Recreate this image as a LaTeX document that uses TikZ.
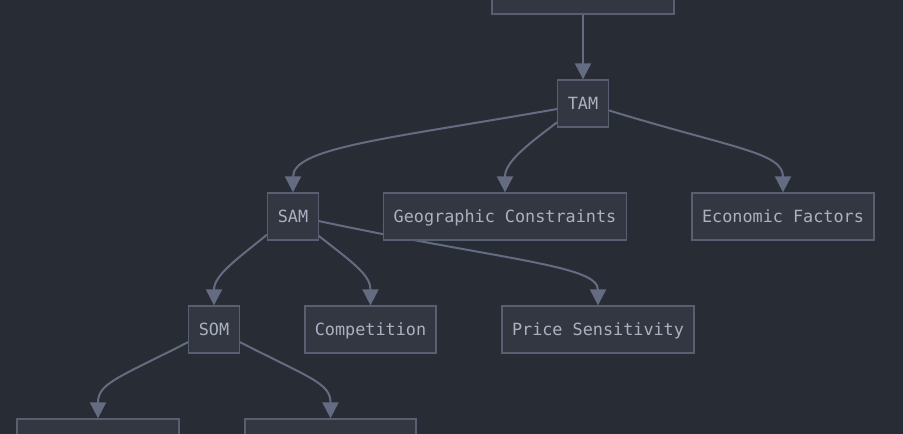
\documentclass[tikz,border=0pt]{standalone}
\usepackage{fontspec}
\setmonofont{DejaVu Sans Mono}
\usetikzlibrary{arrows.meta,backgrounds}

\definecolor{bgcol}{RGB}{40,44,52}
\definecolor{boxfill}{RGB}{51,55,66}
\definecolor{boxline}{RGB}{88,95,112}
\definecolor{edgecol}{RGB}{100,108,130}
\definecolor{txtcol}{RGB}{171,178,191}

\tikzset{
  box/.style={draw=boxline, fill=boxfill, line width=1.3pt, text=txtcol,
    minimum height=47pt, inner xsep=10pt, inner ysep=0pt,
    text height=12.2pt, text depth=0pt,
    font=\fontsize{16.8}{20}\selectfont\ttfamily},
  edge/.style={draw=edgecol, line width=2pt, -{Triangle[length=16pt,width=16pt]}}
}

\begin{document}
\begin{tikzpicture}[x=1pt,y=1pt]
\useasboundingbox (0,0) rectangle (903,-434);
\clip (0,0) rectangle (903,-434);

\node[box, minimum width=182pt] (top) at (583,9.5) {};
\node[box] (tam) at (583,-103.5) {TAM};
\node[box] (sam) at (293,-216.5) {SAM};
\node[box] (geo) at (505,-216.5) {Geographic Constraints};
\node[box] (eco) at (783,-216.5) {Economic Factors};
\node[box] (som) at (214,-329.5) {SOM};
\node[box] (comp) at (370.5,-329.5) {Competition};
\node[box] (price) at (598,-329.5) {Price Sensitivity};
\node[box, minimum width=162pt] (bl) at (98,-442.5) {};
\node[box, minimum width=171pt] (br) at (330.5,-442.5) {};

\begin{pgfonlayer}{background}
\fill[bgcol] (0,0) rectangle (903,-434);
\draw[edge] (top) -- (tam);
\draw[edge] (tam.192) .. controls +(190:170) and +(90:45) .. (sam.north);
\draw[edge] (tam.216) .. controls +(217:40) and +(90:30) .. (geo.north);
\draw[edge] (tam.345) .. controls +(-17:130) and +(90:40) .. (eco.north);
\draw[edge] (sam.215) .. controls +(219:40) and +(90:30) .. (som.north);
\draw[edge] (sam.323) .. controls +(-38:45) and +(90:30) .. (comp.north);
\draw[edge] (sam.350) .. controls +(-12:190) and +(90:40) .. (price.north);
\draw[edge] (som.206) .. controls +(207:80) and +(90:35) .. (bl.north);
\draw[edge] (som.334) .. controls +(-27:80) and +(90:35) .. (br.north);
\end{pgfonlayer}

\end{tikzpicture}
\end{document}
